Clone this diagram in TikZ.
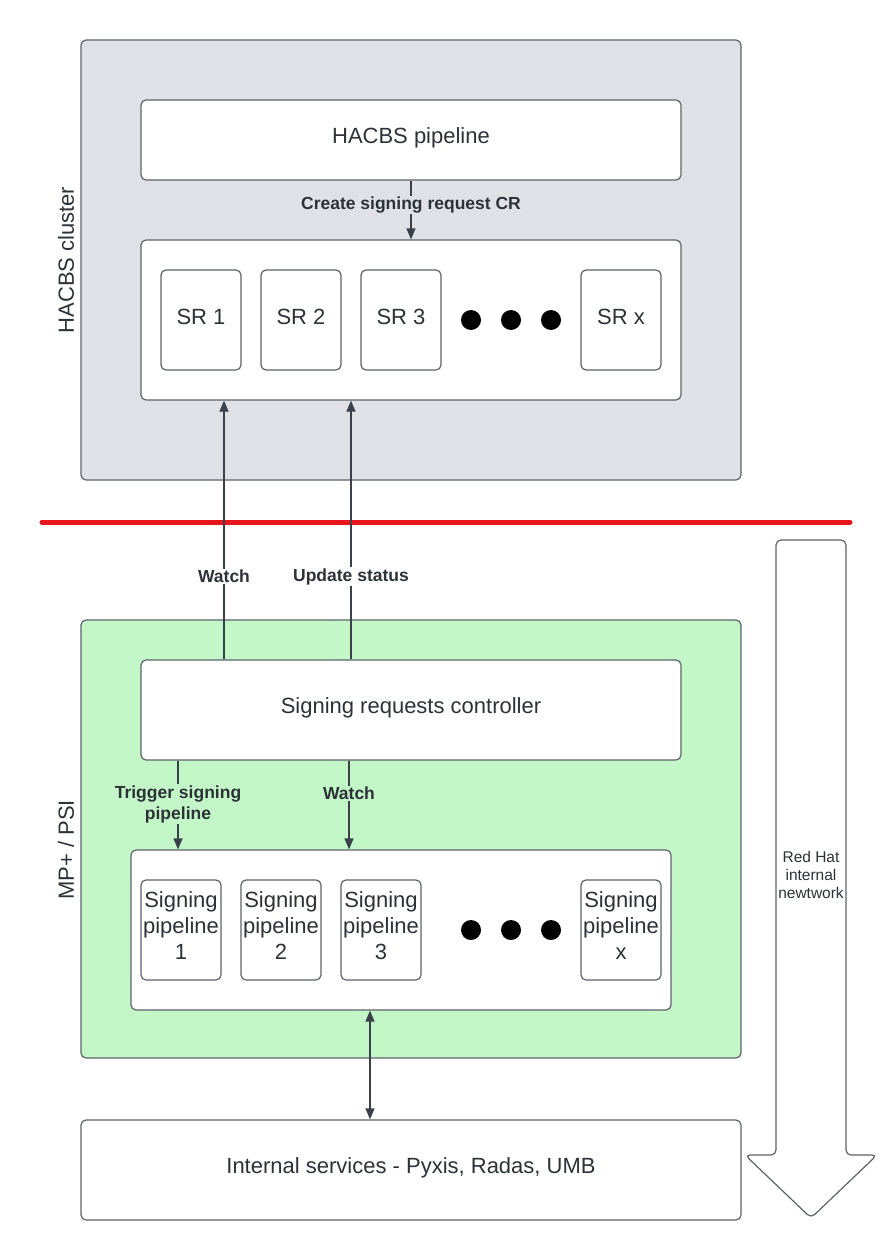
\documentclass[tikz,border=0pt]{standalone}
\usepackage{fontspec}
\setmainfont{Liberation Sans}
\usetikzlibrary{arrows.meta}
\definecolor{grayfill}{RGB}{223,225,230}
\definecolor{greenfill}{RGB}{195,247,200}
\definecolor{bordc}{RGB}{94,98,106}
\definecolor{txtc}{RGB}{45,49,56}
\definecolor{arrc}{RGB}{58,65,74}
\definecolor{redline}{RGB}{232,21,26}
\tikzset{
  box/.style={draw=bordc, line width=1.2pt, rounded corners=5pt, fill=white, inner sep=0pt},
  tx/.style={label={[yshift=#1, inner sep=0pt, text=txtc, font=\fontsize{22}{26}\selectfont, align=center]center:\boxtext}},
  smallbox/.style={box, minimum width=80pt, minimum height=100pt},
  dot/.style={circle, fill=black, minimum size=20pt, inner sep=0pt},
  arr/.style={draw=arrc, line width=1.2pt, -{Triangle[length=11pt,width=9pt]}},
  darr/.style={draw=arrc, line width=1.2pt, {Triangle[length=11pt,width=9pt]}-{Triangle[length=11pt,width=9pt]}},
  lbl/.style={font=\bfseries\fontsize{17.5}{21}\selectfont, text=txtc, inner sep=1pt, align=center},
  sidelbl/.style={font=\fontsize{22}{26}\selectfont, text=txtc, rotate=90}
}
\begin{document}
\begin{tikzpicture}[x=1pt,y=-1pt]
\useasboundingbox (0,0) rectangle (879,1260);
\fill[white] (0,0) rectangle (879,1260);

% HACBS cluster
\node[box, fill=grayfill, minimum width=660pt, minimum height=440pt] (hc) at (411,260) {};
\node[sidelbl] (hcl) at (66,260) {HACBS cluster};
\def\boxtext{HACBS pipeline}
\node[box, tx=2pt, minimum width=540pt, minimum height=80pt] (hp) at (411,140) {};
\node[box, minimum width=540pt, minimum height=160pt] (src) at (411,320) {};
\def\boxtext{SR 1}\node[smallbox, tx=3pt] (sr1) at (201,320) {};
\def\boxtext{SR 2}\node[smallbox, tx=3pt] (sr2) at (301,320) {};
\def\boxtext{SR 3}\node[smallbox, tx=3pt] (sr3) at (401,320) {};
\def\boxtext{SR x}\node[smallbox, tx=3pt] (srx) at (621,320) {};
\node[dot] (d1) at (471,320) {};
\node[dot] (d2) at (511,320) {};
\node[dot] (d3) at (551,320) {};

% red separator
\coordinate (rl) at (42,522);
\coordinate (rr) at (850,522);
\draw[redline, line width=5pt, line cap=round] (rl) -- (rr);

% network arrow
\draw[draw=bordc, line width=1.2pt, rounded corners=5pt, fill=white]
  (776,1155) -- (776,540) -- (846,540) -- (846,1155) -- (877,1155) -- (811,1218) -- (745,1155) -- cycle;
\node[font=\fontsize{15.5}{18}\selectfont, text=txtc, align=center] (net) at (811,875) {Red Hat\\internal\\newtwork};

% MP+ / PSI
\node[box, fill=greenfill, minimum width=660pt, minimum height=438pt] (mp) at (411,839) {};
\node[sidelbl] (mpl) at (66,850) {MP+ / PSI};
\def\boxtext{Signing requests controller}
\node[box, tx=2pt, minimum width=540pt, minimum height=100pt] (ctrl) at (411,710) {};
\node[box, minimum width=540pt, minimum height=160pt] (spc) at (401,930) {};
\def\boxtext{Signing\\pipeline\\1}\node[smallbox, tx=4pt] (sp1) at (181,930) {};
\def\boxtext{Signing\\pipeline\\2}\node[smallbox, tx=4pt] (sp2) at (281,930) {};
\def\boxtext{Signing\\pipeline\\3}\node[smallbox, tx=4pt] (sp3) at (381,930) {};
\def\boxtext{Signing\\pipeline\\x}\node[smallbox, tx=4pt] (spx) at (621,930) {};
\node[dot] (e1) at (471,930) {};
\node[dot] (e2) at (511,930) {};
\node[dot] (e3) at (551,930) {};

% Internal services
\def\boxtext{Internal services - Pyxis, Radas, UMB}
\node[box, tx=2pt, minimum width=660pt, minimum height=100pt] (is) at (411,1170) {};

% connectors
\coordinate (xw) at (224,0);
\coordinate (xu) at (351,0);
\coordinate (xt) at (178,0);
\coordinate (xw2) at (349,0);
\coordinate (xd) at (370,0);

\draw[arr] (hp.south) -- node[lbl, fill=grayfill, pos=0.41] {Create signing request CR} (src.north);
\draw[arr] (ctrl.north -| xw) -- node[lbl, fill=white, pos=0.32] {Watch} (src.south -| xw);
\draw[arr] (ctrl.north -| xu) -- node[lbl, fill=white, pos=0.32] {Update status} (src.south -| xu);
\draw[arr] (ctrl.south -| xt) -- node[lbl, fill=greenfill, pos=0.49] {Trigger signing\\pipeline} (spc.north -| xt);
\draw[arr] (ctrl.south -| xw2) -- node[lbl, fill=greenfill, pos=0.367] {Watch} (spc.north -| xw2);
\draw[darr] (spc.south -| xd) -- (is.north -| xd);
\end{tikzpicture}
\end{document}
